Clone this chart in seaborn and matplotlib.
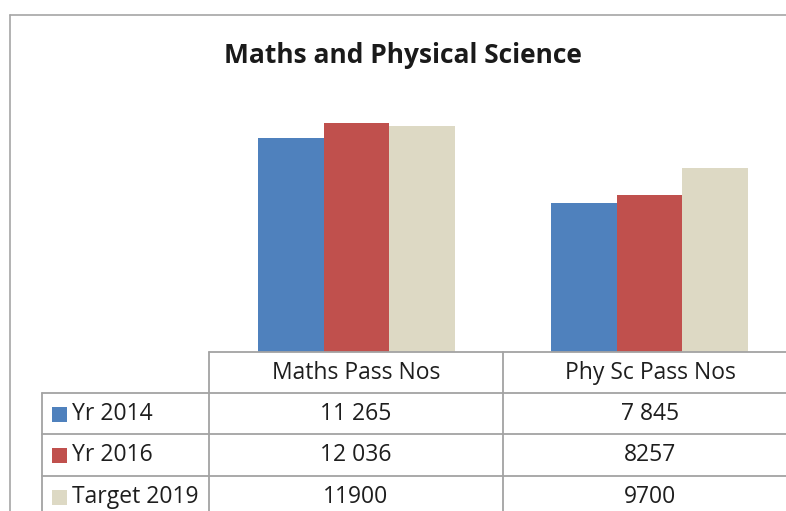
import pandas as pd
import matplotlib.pyplot as plt
import seaborn as sns
from matplotlib.patches import Rectangle
from matplotlib.lines import Line2D

# Chart data
categories = ["Maths Pass Nos", "Phy Sc Pass Nos"]
series = ["Yr 2014", "Yr 2016", "Target 2019"]
yr_2014 = [11265, 7845]
yr_2016 = [12036, 8257]
target_2019 = [11900, 9700]
# table text as printed in the data table
yr_2014_text = ["11 265", "7 845"]
yr_2016_text = ["12 036", "8257"]
target_2019_text = ["11900", "9700"]
colors = ["#4F81BD", "#C0504D", "#DDD9C4"]

W, H = 786, 511
GRID = "#a3a3a3"
FONT = "Open Sans"


def fx(px):
    return px / W


def fy(py):
    return 1 - py / H


df = pd.DataFrame({
    "category": categories * 3,
    "series": [s for s in series for _ in categories],
    "value": yr_2014 + yr_2016 + target_2019,
})

sns.set_theme(style="white")
plt.rcParams["font.family"] = [FONT, "DejaVu Sans"]

fig = plt.figure(figsize=(W / 100, H / 100), dpi=100)
fig.patch.set_facecolor("white")

# bar area sits right above the data table
ax = fig.add_axes([fx(210), fy(352), fx(796) - fx(210), fy(86) - fy(352)])
sns.barplot(data=df, x="category", y="value", hue="series", order=categories,
            hue_order=series, palette=colors, width=0.67, saturation=1,
            edgecolor="none", legend=False, ax=ax)
ax.set_xlim(-0.5, 1.5)
ax.set_ylim(0, 14000)
ax.set_xlabel("")
ax.set_ylabel("")
ax.set_xticks([])
ax.set_yticks([])
for sp in ax.spines.values():
    sp.set_visible(False)
ax.patch.set_alpha(0)

# outer chart border (left and top visible)
fig.add_artist(Line2D([fx(10), fx(10)], [fy(15), -0.1], color="#a6a6a6", lw=1.2,
                      transform=fig.transFigure))
fig.add_artist(Line2D([fx(10), 1.1], [fy(15), fy(15)], color="#a6a6a6", lw=1.2,
                      transform=fig.transFigure))

fig.text(fx(403), fy(55), "Maths and Physical Science", ha="center", va="center",
         fontsize=19, fontweight="bold", color="#1a1a1a")

# data table grid
row_lines = [393, 434, 476]
col_lines = [209, 503]
fig.add_artist(Line2D([fx(209), 1.1], [fy(352), fy(352)], color=GRID, lw=1.3,
                      transform=fig.transFigure))
for y in row_lines:
    fig.add_artist(Line2D([fx(42), 1.1], [fy(y), fy(y)], color=GRID, lw=1.3,
                          transform=fig.transFigure))
for x in col_lines:
    fig.add_artist(Line2D([fx(x), fx(x)], [fy(352), -0.1], color=GRID, lw=1.3,
                          transform=fig.transFigure))
fig.add_artist(Line2D([fx(42), fx(42)], [fy(393), -0.1], color=GRID, lw=1.3,
                      transform=fig.transFigure))

col_centers = [356, 650]
for cx, cat in zip(col_centers, categories):
    fig.text(fx(cx), fy(373), cat, ha="center", va="center", fontsize=16.5,
             color="#1e1e1e")

row_centers = [414, 455, 497]
table_rows = [yr_2014_text, yr_2016_text, target_2019_text]
for cy, name, col, texts in zip(row_centers, series, colors, table_rows):
    fig.add_artist(Rectangle((fx(52), fy(cy + 7.5)), fx(15), fy(0) - fy(15),
                             facecolor=col, edgecolor="none",
                             transform=fig.transFigure))
    fig.text(fx(72), fy(cy), name, ha="left", va="center", fontsize=16.5,
             color="#1e1e1e")
    for cx, t in zip(col_centers, texts):
        fig.text(fx(cx), fy(cy), t, ha="center", va="center", fontsize=16.5,
                 color="#1e1e1e")

fig.savefig("out.png", dpi=100)
